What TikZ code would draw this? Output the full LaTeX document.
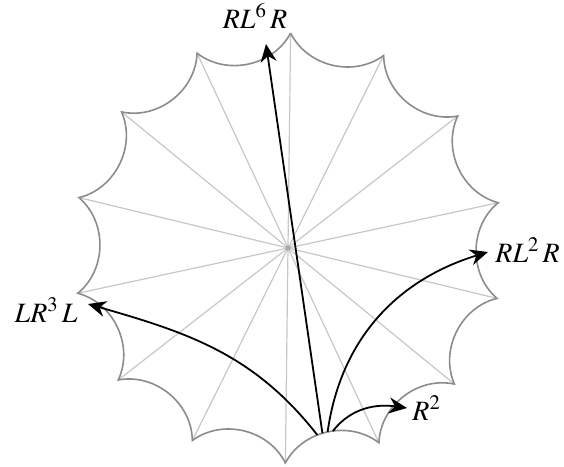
\documentclass[tikz,border=0pt]{standalone}
\usepackage{mathptmx}
\usetikzlibrary{arrows.meta}
\tikzset{
  rim/.style={draw=black!45, line width=0.8pt},
  spoke/.style={draw=black!22, line width=0.6pt},
  word/.style={-{Stealth[length=9pt, width=8pt, inset=3pt]}, line width=0.9pt},
  lbl/.style={font=\fontsize{14}{16}\selectfont, inner sep=0pt},
}
\begin{document}
\begin{tikzpicture}[x=0.5pt, y=0.5pt]
  \useasboundingbox (-288,-219) rectangle (276,248);

  % Les 14 sommets du polygone
  \foreach \k in {0,...,13}
    \coordinate (V\k) at ({89.3+\k*360/14}:215);

  % Rayons (diametres)
  \foreach \k in {0,...,6} {
    \pgfmathtruncatemacro\j{\k+7}
    \draw[spoke] (V\k) -- (V\j);
  }
  \fill[black!35] (0,0) circle (2.5);

  % Bord : arcs concaves entre sommets voisins
  \draw[rim] (V0) \foreach \k in {1,...,13} { to[bend left=50] (V\k) } to[bend left=50] (V0);

  % Points de depart sur l'arc du bas
  \path (V7) to[bend left=50]
    coordinate[pos=0.40] (S1) coordinate[pos=0.45] (S2)
    coordinate[pos=0.50] (S3) coordinate[pos=0.55] (S4) (V8);

  % Extremites des fleches
  \coordinate (T6) at (-22,204);
  \coordinate (T3) at (-200,-56);
  \coordinate (T2) at (200,-4);
  \coordinate (T1) at (119,-160);

  % Fleches
  \draw[word] (S2) -- (T6);
  \draw[word] (S1) to[out=128, in=-16] (T3);
  \draw[word] (S3) to[out=82, in=-163] (T2);
  \draw[word] (S4) to[out=52, in=172] (T1);

  % Etiquettes
  \node[lbl, anchor=base] (w6) at (-33,220) {$RL^6\,R$};
  \node[lbl, anchor=base west] (w2) at (207,-14) {$RL^2\,R$};
  \node[lbl, anchor=base east] (w3) at (-210,-74) {$LR^3\,L$};
  \node[lbl, anchor=base west] (w1) at (124,-172) {$R^2$};
\end{tikzpicture}
\end{document}
